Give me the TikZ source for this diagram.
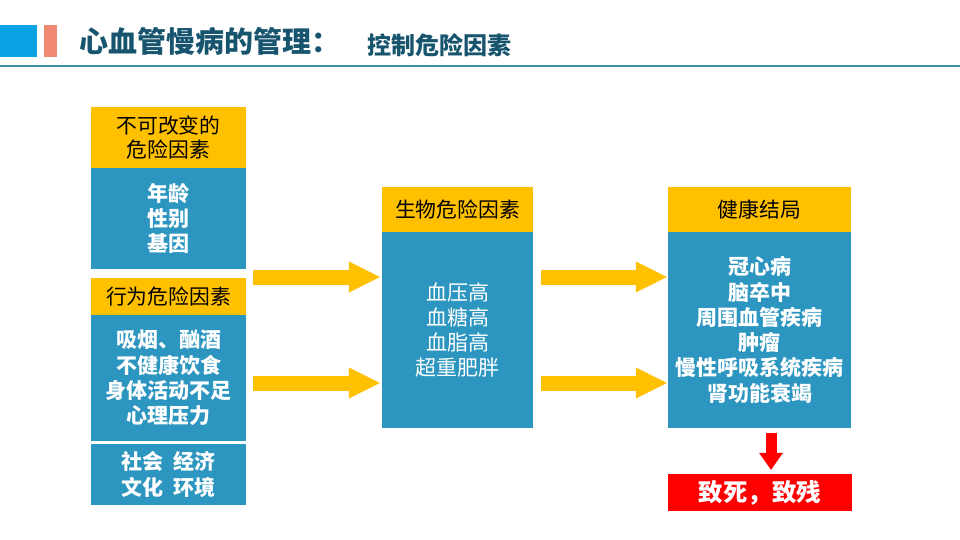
\documentclass[tikz,border=0pt]{standalone}
\usepackage{fontspec}
\setmainfont{Noto Sans CJK SC}
\usetikzlibrary{arrows.meta}

\definecolor{hdyellow}{HTML}{FFC000}
\definecolor{boxblue}{HTML}{2C96C1}
\definecolor{ttlteal}{HTML}{17546E}
\definecolor{rulecol}{HTML}{3A90A8}
\definecolor{sqblue}{HTML}{0AA2E2}
\definecolor{sqcoral}{HTML}{F08A72}

\tikzset{
  hdbox/.style={fill=hdyellow, inner sep=0, align=center,
    font=\fontsize{20.8}{24.5}\selectfont},
  bluebox/.style={fill=boxblue, text=white, inner sep=0, align=center,
    font=\fontsize{21}{25.3}\selectfont\bfseries},
  yarrow/.style={draw=hdyellow, line width=15,
    -{Triangle[length=31pt 0 0, width=31pt 0 0, line width=0pt 0 0]}},
  rarrow/.style={draw=red, line width=11,
    -{Triangle[length=17pt 0 0, width=24pt 0 0, line width=0pt 0 0]}}
}

\begin{document}
\begin{tikzpicture}[x=1pt, y=-1pt]
\useasboundingbox (0,0) rectangle (960,540);

% header
\fill[sqblue] (0,25) rectangle (37,57);
\fill[sqcoral] (44,25) rectangle (57,57);
\node[anchor=base west, inner sep=0, text=ttlteal, font=\fontsize{29}{29}\selectfont\bfseries]
  (title) at (79,53) {心血管慢病的管理：};
\node[anchor=base west, inner sep=0, text=ttlteal, font=\fontsize{24}{24}\selectfont\bfseries]
  (subtitle) at (367,54.5) {控制危险因素};
\draw[rulecol, line width=2.5] (0,66) -- (960,66);

% left column
\def \lx {168.5}
\def \lw {155}
\node[hdbox, minimum width=\lw, minimum height=61] (fixA) at (\lx,137.5) {不可改变的\\危险因素};
\node[bluebox, minimum width=\lw, minimum height=101] (fixB) at (\lx,218.5) {年龄\\性别\\基因};
\node[hdbox, minimum width=\lw, minimum height=37] (behA) at (\lx,296.5) {行为危险因素};
\node[bluebox, minimum width=\lw, minimum height=126] (behB) at (\lx,378) {吸烟、酗酒\\不健康饮食\\身体活动不足\\心理压力};
\node[bluebox, minimum width=\lw, minimum height=61] (soc) at (\lx,474.5) {社会\ \ 经济\\文化\ \ 环境};

% middle column
\node[hdbox, minimum width=151, minimum height=45] (bioA) at (457.5,209.5) {生物危险因素};
\node[bluebox, minimum width=151, minimum height=196, font=\fontsize{21}{25.3}\selectfont]
  (bioB) at (457.5,330) {血压高\\血糖高\\血脂高\\超重肥胖};

% right column
\node[hdbox, minimum width=183, minimum height=45] (outA) at (759.5,209.5) {健康结局};
\node[bluebox, minimum width=183, minimum height=196] (outB) at (759.5,330)
  {冠心病\\脑卒中\\周围血管疾病\\肿瘤\\慢性呼吸系统疾病\\肾功能衰竭};

\node[fill=red, text=white, inner sep=0, minimum width=184, minimum height=37,
  font=\fontsize{24.5}{24.5}\selectfont\bfseries] (death) at (760,492.5) {致死，致残};

% arrows
\foreach \y/\n in {277/1, 383/2}
{
  \coordinate (la\n) at (253,\y);
  \coordinate (ra\n) at (541,\y);
  \draw[yarrow, shorten >=2] (la\n) -- (la\n -| bioB.west);
  \draw[yarrow, shorten >=1] (ra\n) -- (ra\n -| outB.west);
}
\coordinate (da) at (771,433);
\draw[rarrow, shorten >=4] (da) -- (da |- death.north);
\end{tikzpicture}
\end{document}
